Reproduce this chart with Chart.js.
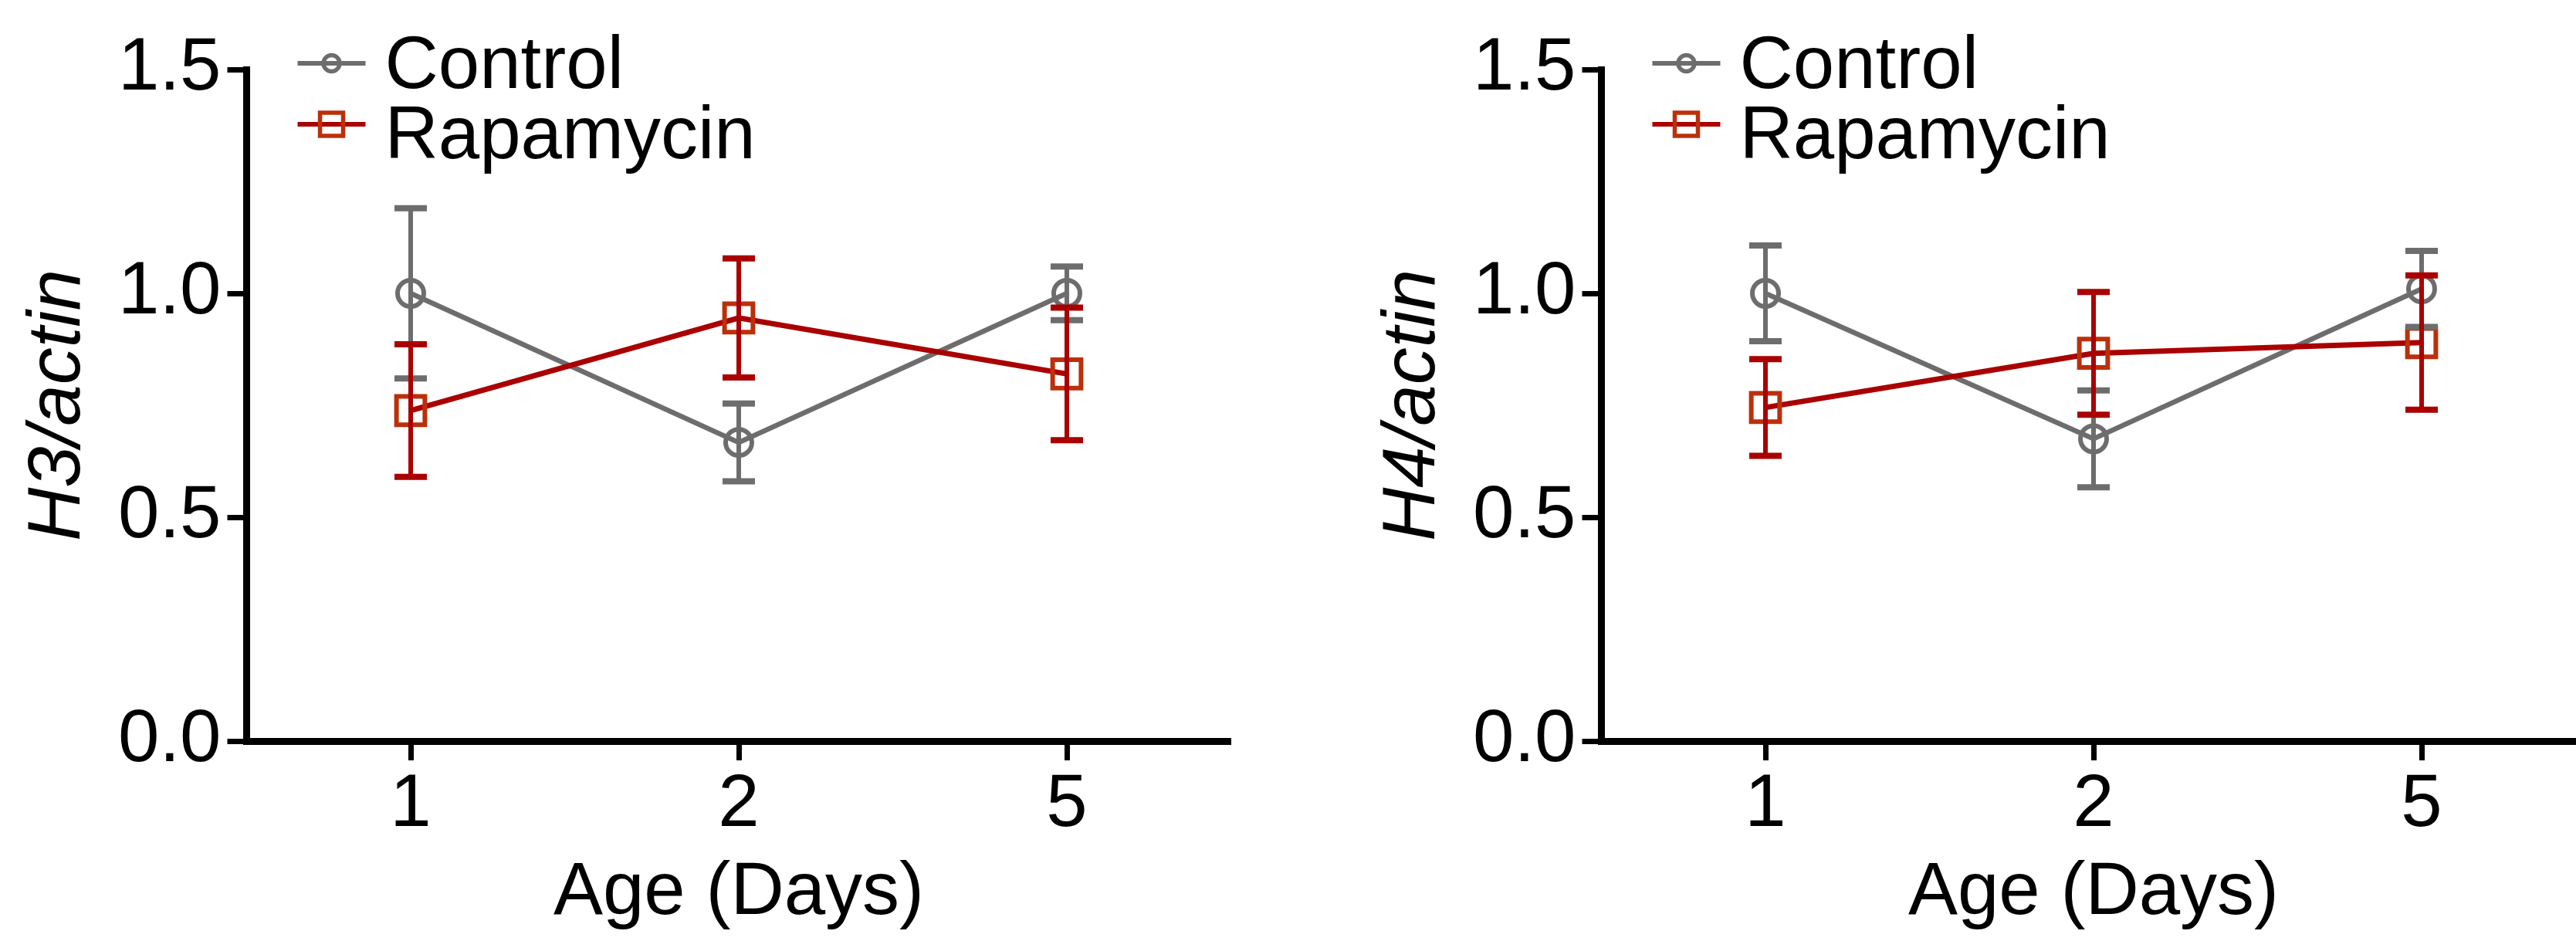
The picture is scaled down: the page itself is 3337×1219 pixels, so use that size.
<!DOCTYPE html>
<html>
<head>
<meta charset="utf-8">
<title>H3 / H4 actin</title>
<script src="https://cdn.jsdelivr.net/npm/chart.js@4.4.1/dist/chart.umd.min.js"></script>
<style>
    html, body {
        margin: 0;
        padding: 0;
        width: 3337px;
        height: 1219px;
        overflow: hidden;
        background: #fff;
    }
    .panel {
        position: absolute;
        top: 0;
        width: 1680px;
        height: 1219px;
    }
    #panelH3 { left: 0; }
    #panelH4 { left: 1755px; }
</style>
</head>
<body>
<div class="panel" id="panelH3"><canvas id="chartH3" width="1680" height="1219"></canvas></div>
<div class="panel" id="panelH4"><canvas id="chartH4" width="1680" height="1219"></canvas></div>

<script>
const dayLabels = ['1', '2', '5'];
const yTickValues = [0.0, 0.5, 1.0, 1.5];

// H3/actin
const h3ControlMean = [1.00, 0.667, 1.00];
const h3ControlErr = [0.19, 0.087, 0.06];
const h3RapaMean = [0.738, 0.945, 0.82];
const h3RapaErr = [0.148, 0.133, 0.148];

// H4/actin
const h4ControlMean = [1.00, 0.675, 1.01];
const h4ControlErr = [0.107, 0.108, 0.085];
const h4RapaMean = [0.745, 0.866, 0.89];
const h4RapaErr = [0.108, 0.137, 0.15];

const GRAY = '#6d6d6d';
const RED = '#aa0000';
const RED_MARKER = '#bb300a';
const FONT_FAMILY = '"Liberation Sans", Arial, Helvetica, sans-serif';

// error bars, drawn through the chart's own scales
const errorBarPlugin = {
    id: 'errorBars',
    afterDatasetsDraw(chart) {
        const ctx = chart.ctx;
        const yScale = chart.scales.y;
        const capHalf = 21;

        chart.data.datasets.forEach((ds, di) => {
            if (!ds.errors) return;
            const meta = chart.getDatasetMeta(di);
            ctx.save();
            ctx.strokeStyle = ds.borderColor;
            ctx.lineCap = 'butt';
            meta.data.forEach((pt, i) => {
                const mean = ds.data[i];
                const err = ds.errors[i];
                const yTop = yScale.getPixelForValue(mean + err);
                const yBot = yScale.getPixelForValue(mean - err);
                ctx.lineWidth = 6;
                ctx.beginPath();
                ctx.moveTo(pt.x, yTop);
                ctx.lineTo(pt.x, yBot);
                ctx.stroke();
                ctx.lineWidth = 8;
                ctx.beginPath();
                ctx.moveTo(pt.x - capHalf, yTop);
                ctx.lineTo(pt.x + capHalf, yTop);
                ctx.moveTo(pt.x - capHalf, yBot);
                ctx.lineTo(pt.x + capHalf, yBot);
                ctx.stroke();
            });
            ctx.restore();
        });
    }
};

// legend in the top-left corner, overlapping the plot area
const cornerLegendPlugin = {
    id: 'cornerLegend',
    afterDraw(chart) {
        const ctx = chart.ctx;
        const area = chart.chartArea;
        const rows = [
            { lineY: area.top - 8, textY: area.top + 24 },
            { lineY: area.top + 71, textY: area.top + 115 }
        ];

        chart.data.datasets.forEach((ds, i) => {
            const row = rows[i];
            const x0 = area.left + 66;
            const x1 = area.left + 154;
            const cx = (x0 + x1) / 2;

            ctx.save();
            ctx.strokeStyle = ds.borderColor;
            ctx.lineWidth = 6;
            ctx.beginPath();
            ctx.moveTo(x0, row.lineY);
            ctx.lineTo(x1, row.lineY);
            ctx.stroke();

            ctx.strokeStyle = ds.pointBorderColor;
            ctx.lineWidth = 5.5;
            ctx.beginPath();
            if (ds.pointStyle === 'rect') {
                ctx.rect(cx - 15, row.lineY - 15, 30, 30);
            } else {
                ctx.arc(cx, row.lineY, 10.5, 0, Math.PI * 2);
            }
            ctx.stroke();

            ctx.fillStyle = '#000';
            ctx.font = '96px ' + FONT_FAMILY;
            ctx.textAlign = 'left';
            ctx.textBaseline = 'alphabetic';
            ctx.fillText(ds.label, area.left + 179, row.textY);
            ctx.restore();
        });
    }
};

function buildChart(canvasId, yTitle, controlMean, controlErr, rapaMean, rapaErr) {
    const ctx = document.getElementById(canvasId).getContext('2d');

    return new Chart(ctx, {
        type: 'line',
        data: {
            labels: dayLabels,
            datasets: [{
                label: 'Control',
                data: controlMean,
                errors: controlErr,
                borderColor: GRAY,
                borderWidth: 6.5,
                pointStyle: 'circle',
                pointRadius: 17,
                pointBorderWidth: 6,
                pointBorderColor: GRAY,
                pointBackgroundColor: 'rgba(0,0,0,0)',
                order: 2
            }, {
                label: 'Rapamycin',
                data: rapaMean,
                errors: rapaErr,
                borderColor: RED,
                borderWidth: 7,
                pointStyle: 'rect',
                pointRadius: 26,
                pointBorderWidth: 6,
                pointBorderColor: RED_MARKER,
                pointBackgroundColor: 'rgba(0,0,0,0)',
                order: 1
            }]
        },
        options: {
            responsive: false,
            animation: false,
            layout: {
                padding: { top: 90, right: 85.5, bottom: 0, left: 0 }
            },
            plugins: {
                legend: { display: false },
                tooltip: { enabled: false }
            },
            scales: {
                x: {
                    type: 'category',
                    offset: true,
                    afterFit: scale => { scale.height = 259; },
                    border: { display: true, color: '#000', width: 9 },
                    grid: {
                        drawOnChartArea: false,
                        drawTicks: true,
                        tickLength: 25,
                        tickWidth: 7,
                        tickColor: '#000',
                        offset: false
                    },
                    ticks: {
                        color: '#000',
                        padding: 1,
                        font: { family: FONT_FAMILY, size: 96 }
                    },
                    title: {
                        display: true,
                        text: 'Age (Days)',
                        color: '#000',
                        padding: { top: 0, bottom: 4 },
                        font: { family: FONT_FAMILY, size: 96 }
                    }
                },
                y: {
                    min: 0,
                    max: 1.5,
                    afterFit: scale => { scale.width = 319.5; },
                    afterBuildTicks: scale => {
                        scale.ticks = yTickValues.map(v => ({ value: v }));
                    },
                    border: { display: true, color: '#000', width: 9 },
                    grid: {
                        drawOnChartArea: false,
                        drawTicks: true,
                        tickLength: 25,
                        tickWidth: 7,
                        tickColor: '#000'
                    },
                    ticks: {
                        color: '#000',
                        padding: 8,
                        font: { family: FONT_FAMILY, size: 96 },
                        callback: value => Number(value).toFixed(1)
                    },
                    title: {
                        display: true,
                        text: yTitle,
                        color: '#000',
                        padding: { top: 19, bottom: 0 },
                        font: { family: FONT_FAMILY, size: 96, style: 'italic' }
                    }
                }
            }
        },
        plugins: [errorBarPlugin, cornerLegendPlugin]
    });
}

document.addEventListener('DOMContentLoaded', () => {
    try {
        buildChart('chartH3', 'H3/actin', h3ControlMean, h3ControlErr, h3RapaMean, h3RapaErr);
        buildChart('chartH4', 'H4/actin', h4ControlMean, h4ControlErr, h4RapaMean, h4RapaErr);
    } catch (error) {
        console.error('chart build failed:', error);
    }
});
</script>
</body>
</html>
